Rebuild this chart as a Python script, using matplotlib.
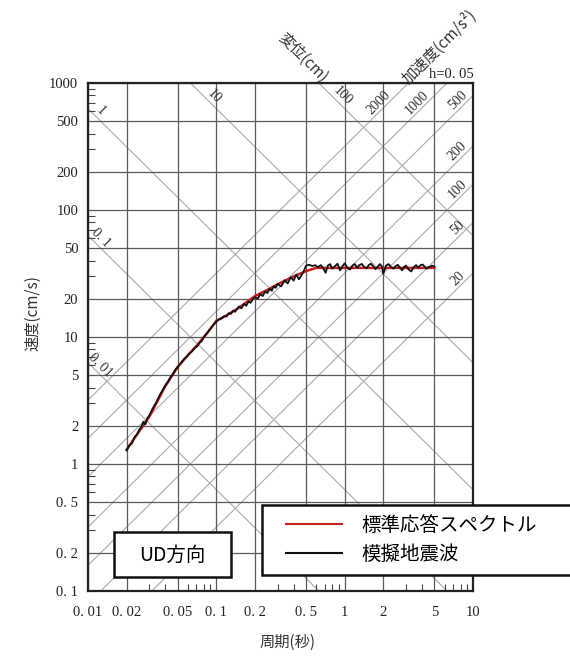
import matplotlib
matplotlib.use("Agg")
import matplotlib.pyplot as plt
import numpy as np
from matplotlib.patches import Rectangle
from matplotlib.legend_handler import HandlerLine2D
from matplotlib.ticker import FixedLocator, FixedFormatter, LogLocator, NullFormatter

plt.rcParams['font.family'] = ['Liberation Serif', 'Noto Sans CJK JP']
JP = ['Noto Sans CJK JP', 'DejaVu Sans']

# axis ticks
x_ticks = [0.01, 0.02, 0.05, 0.1, 0.2, 0.5, 1, 2, 5, 10]
x_labels = ['0. 01', '0. 02', '0. 05', '0. 1', '0. 2', '0. 5', '1', '2', '5', '10']
y_ticks = [0.1, 0.2, 0.5, 1, 2, 5, 10, 20, 50, 100, 200, 500, 1000]
y_labels = ['0. 1', '0. 2', '0. 5', '1', '2', '5', '10', '20', '50', '100', '200', '500', '1000']

# tripartite reference lines
disp_vals = [0.01, 0.1, 1, 10, 100]            # cm
disp_labels = ['0. 01', '0. 1', '1', '10', '100']
acc_vals = [20, 50, 100, 200, 500, 1000, 2000]  # cm/s2
acc_labels = ['20', '50', '100', '200', '500', '1000', '2000']

# standard response spectrum (red)
t_std = [0.02, 0.025, 0.03, 0.04, 0.05, 0.06, 0.07, 0.08, 0.09, 0.1, 0.12, 0.15,
         0.2, 0.25, 0.3, 0.4, 0.5, 0.6, 1.0, 2.0, 5.0]
v_std = [1.3, 1.8, 2.35, 4.1, 5.8, 7.2, 8.5, 10.0, 11.6, 13.4, 14.8, 17.0,
         21.0, 23.5, 26.0, 30.0, 33.0, 35.0, 35.0, 35.0, 35.0]

# simulated earthquake wave (black)
t_sim = [0.020, 0.021, 0.022, 0.023, 0.024, 0.025, 0.026, 0.027, 0.028, 0.029,
         0.030, 0.032, 0.034, 0.036, 0.038, 0.040, 0.042, 0.044, 0.046, 0.048,
         0.050, 0.053, 0.056, 0.059, 0.062, 0.065, 0.068, 0.071, 0.074, 0.077,
         0.080, 0.084, 0.088, 0.092, 0.096, 0.100, 0.105, 0.110, 0.115, 0.120,
         0.125, 0.130, 0.135, 0.140, 0.145, 0.150, 0.157, 0.164, 0.171, 0.178,
         0.185, 0.192, 0.200, 0.21, 0.22, 0.23, 0.24, 0.25, 0.26, 0.27,
         0.28, 0.29, 0.30, 0.32, 0.34, 0.36, 0.38, 0.40, 0.42, 0.44,
         0.46, 0.48, 0.50, 0.53, 0.56, 0.59, 0.62, 0.65, 0.68, 0.71,
         0.74, 0.77, 0.80, 0.84, 0.88, 0.92, 0.96, 1.00, 1.05, 1.10,
         1.15, 1.20, 1.25, 1.30, 1.36, 1.42, 1.48, 1.54, 1.60, 1.67,
         1.74, 1.81, 1.88, 1.95, 2.00, 2.10, 2.20, 2.30, 2.40, 2.50,
         2.60, 2.70, 2.80, 2.90, 3.00, 3.15, 3.30, 3.45, 3.60, 3.75,
         3.90, 4.05, 4.20, 4.35, 4.50, 4.65, 4.80, 5.00]
v_sim = [1.28, 1.40, 1.45, 1.62, 1.70, 1.85, 1.95, 2.15, 2.05, 2.30,
         2.40, 2.75, 3.05, 3.45, 3.80, 4.15, 4.45, 4.85, 5.10, 5.55,
         5.80, 6.25, 6.70, 7.00, 7.45, 7.75, 8.20, 8.45, 9.00, 9.30,
         10.0, 10.6, 11.3, 12.0, 12.6, 13.2, 13.8, 14.0, 14.6, 14.5,
         15.4, 15.2, 16.1, 15.8, 16.6, 17.4, 16.8, 18.2, 17.6, 19.0,
         18.6, 19.8, 20.6, 20.0, 21.8, 21.0, 22.8, 22.2, 23.9, 23.2,
         25.0, 24.4, 26.2, 25.0, 28.0, 26.4, 29.5, 27.8, 31.0, 28.5,
         30.5, 33.0, 36.5, 37.0, 36.2, 36.8, 35.5, 36.8, 35.0, 32.0,
         36.5, 37.5, 34.5, 36.2, 37.8, 33.5, 36.0, 38.0, 35.0, 34.0,
         36.5, 37.5, 35.0, 36.8, 37.6, 35.5, 34.8, 36.8, 37.8, 36.0,
         34.2, 35.8, 37.5, 36.0, 31.5, 36.5, 37.5, 35.5, 34.5, 36.2,
         37.0, 35.0, 33.5, 35.5, 36.5, 34.0, 32.8, 35.5, 36.8, 35.2,
         36.8, 37.2, 35.8, 34.5, 35.5, 35.8, 36.5, 35.8]

fig = plt.figure(figsize=(5.7, 6.6), dpi=100)
ax = fig.add_axes([88/570, 69/660, 385/570, 508/660])
ax.set_xscale('log')
ax.set_yscale('log')

# diagonal grid
t_line = np.array([0.005, 20.0])
for d in disp_vals:
    ax.plot(t_line, 2*np.pi*d/t_line, color='#ababab', lw=0.8, zorder=1)
for a in acc_vals:
    ax.plot(t_line, a*t_line/(2*np.pi), color='#ababab', lw=0.8, zorder=1)

# diagonal labels
for d, lab in zip(disp_vals, disp_labels):
    if d <= 1:
        t = 0.0125
    else:
        t = 2*np.pi*d*1.2/790
    ax.text(t, 2*np.pi*d*1.2/t, lab, rotation=-45, ha='center', va='center',
            fontsize=10, color='#333333', rotation_mode='anchor')
for a, lab in zip(acc_vals, acc_labels):
    if a >= 1000:
        v = 700
        t = 2*np.pi*v/(a*1.2)
    else:
        t = 7.6
        v = a*1.2*t/(2*np.pi)
    ax.text(t, v, lab, rotation=45, ha='center', va='center',
            fontsize=10, color='#333333', rotation_mode='anchor')

h_std, = ax.plot(t_std, v_std, color='#c81e1e', lw=1.8, zorder=3)
h_sim, = ax.plot(t_sim, v_sim, color='#111111', lw=1.3, zorder=4)

ax.set_xlim(0.01, 10)
ax.set_ylim(0.1, 1000)
ax.xaxis.set_major_locator(FixedLocator(x_ticks))
ax.xaxis.set_major_formatter(FixedFormatter(x_labels))
ax.yaxis.set_major_locator(FixedLocator(y_ticks))
ax.yaxis.set_major_formatter(FixedFormatter(y_labels))
ax.xaxis.set_minor_locator(LogLocator(base=10, subs=[3, 4, 6, 7, 8, 9]))
ax.yaxis.set_minor_locator(LogLocator(base=10, subs=[3, 4, 6, 7, 8, 9]))
ax.xaxis.set_minor_formatter(NullFormatter())
ax.yaxis.set_minor_formatter(NullFormatter())
ax.tick_params(which='major', length=0, labelsize=10.5, colors='#222222')
ax.tick_params(axis='x', which='major', pad=11)
ax.tick_params(axis='y', which='major', pad=7)
ax.tick_params(which='minor', direction='in', length=5, width=0.8, color='#444444')
ax.grid(which='major', color='#5a5a5a', lw=0.9, zorder=2)
for s in ax.spines.values():
    s.set_linewidth(1.6)
    s.set_color('#222222')

fig.text(33/570, 1-313/660, '速度(cm/s)', rotation=90, ha='center', va='center',
         fontsize=11, family=JP, color='#333333')
fig.text(288/570, 1-642/660, '周期(秒)', ha='center', va='center',
         fontsize=11, family=JP, color='#333333')
fig.text(303/570, 1-58/660, '変位(cm)', rotation=-45, ha='center', va='center',
         fontsize=11, family=JP, color='#333333')
fig.text(440/570, 1-47/660, '加速度(cm/s²)', rotation=45, ha='center', va='center',
         fontsize=11, family=JP, color='#333333')
fig.text(474/570, 1-81/660, 'h=0. 05', ha='right', va='bottom', fontsize=10.5, color='#222222')

# UD label box
fig.add_artist(Rectangle((114/570, 1-577/660), 117/570, 45/660, transform=fig.transFigure,
                         facecolor='white', edgecolor='#111111', lw=1.8, zorder=5))
fig.text(172.5/570, 1-555/660, 'UD方向', ha='center', va='center', fontsize=14,
         family=JP, zorder=6)

leg = fig.legend([h_std, h_sim], ['標準応答スペクトル', '模擬地震波'], loc='upper left',
                 bbox_to_anchor=(262/570, 0.12, 0.56, 1-505/660-0.12), mode='expand',
                 frameon=True, fancybox=False, edgecolor='#111111', framealpha=1,
                 prop={'family': JP, 'size': 14}, handlelength=3.62, handletextpad=1.0,
                 borderaxespad=0, borderpad=0.5, labelspacing=0.42,
                 handler_map={h_std: HandlerLine2D(xpad=0.74), h_sim: HandlerLine2D(xpad=0.74)})
leg.get_frame().set_linewidth(1.8)
for ln in leg.get_lines():
    ln.set_linewidth(1.5)

fig.savefig('out.png', dpi=100)
